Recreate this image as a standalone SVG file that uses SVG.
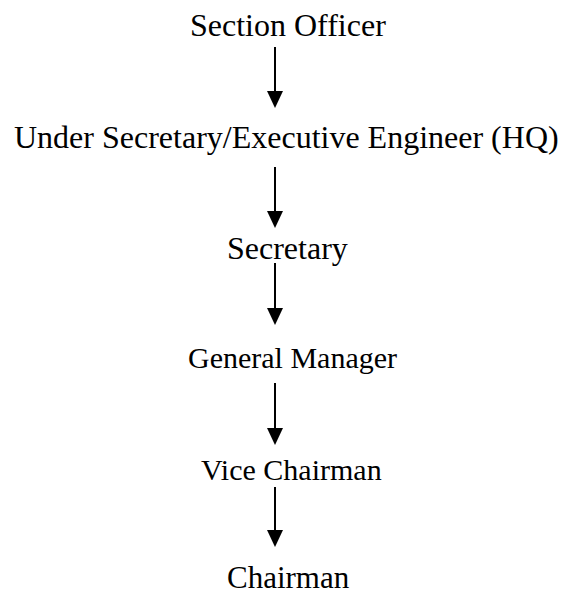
<svg xmlns="http://www.w3.org/2000/svg" width="564" height="594" viewBox="0 0 564 594">
<style>
.t{font-family:"Liberation Serif","Times New Roman",serif;font-size:30px;fill:#000}
.c{stroke:#000;stroke-width:2;fill:none}
.h{fill:#000}
</style>
<rect width="564" height="594" fill="#fff"/>
<g id="n1"><text class="t" x="190" y="36" style="font-size:32px">Section Officer</text></g>
<g id="n2"><text class="t" x="14" y="148" style="font-size:32px">Under Secretary/Executive Engineer (HQ)</text></g>
<g id="n3"><text class="t" x="227" y="259" style="font-size:32px">Secretary</text></g>
<g id="n4"><text class="t" x="188" y="368">General Manager</text></g>
<g id="n5"><text class="t" x="201" y="480">Vice Chairman</text></g>
<g id="n6"><text class="t" x="227" y="588" style="font-size:31px">Chairman</text></g>
<g id="connectors">
<line class="c" x1="275" y1="47" x2="275" y2="94"/><polygon class="h" points="267,91 283,91 275,108"/>
<line class="c" x1="275" y1="167" x2="275" y2="214"/><polygon class="h" points="267,211 283,211 275,228"/>
<line class="c" x1="275" y1="263" x2="275" y2="311"/><polygon class="h" points="267,308 283,308 275,325"/>
<line class="c" x1="275" y1="383" x2="275" y2="431"/><polygon class="h" points="267,428 283,428 275,445"/>
<line class="c" x1="275" y1="487" x2="275" y2="533"/><polygon class="h" points="267,530 283,530 275,547"/>
</g>
</svg>
